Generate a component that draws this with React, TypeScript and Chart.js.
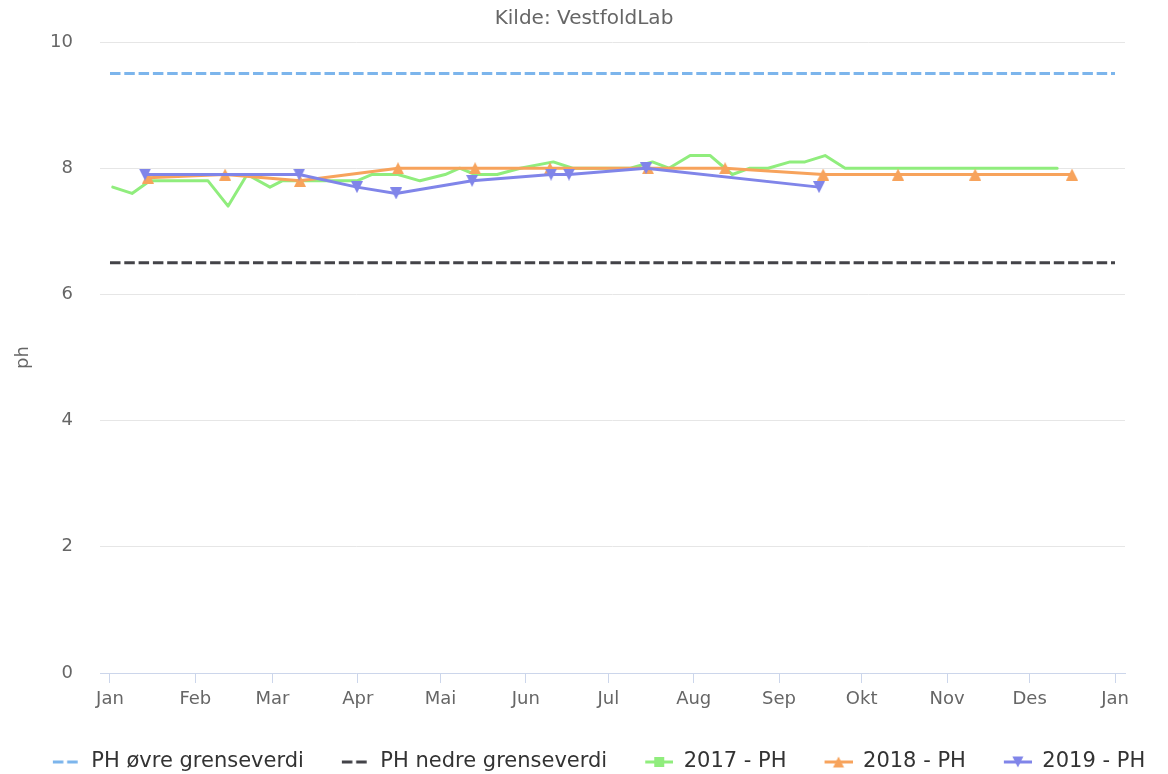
import React, { useEffect, useRef } from "react";
import { Chart, registerables } from "chart.js";

Chart.register(...registerables);

// ---- axis / tick data ----
const monthStarts = [0, 31, 59, 90, 120, 151, 181, 212, 243, 273, 304, 334, 365];
const monthLabels = ["Jan", "Feb", "Mar", "Apr", "Mai", "Jun", "Jul", "Aug", "Sep", "Okt", "Nov", "Des", "Jan"];
const yTicks = [0, 2, 4, 6, 8, 10];

// ---- limit lines ----
const limitDays = [0, 365];
const upperLimit = [9.5, 9.5];
const lowerLimit = [6.5, 6.5];

// ---- 2017 - PH (day of year, value) ----
const days2017 = [1, 8, 14.5, 35.6, 42.9, 49.8, 58.1, 62.5, 69, 80, 89.7, 95, 104.6, 112.6, 121.7, 127, 132.6, 140.6, 149, 161, 168, 178, 189, 197, 203, 210.7, 218, 226, 232.4, 239, 247, 252.4, 259.7, 267, 281, 295, 309, 323, 337, 344];
const ph2017 = [7.7, 7.6, 7.8, 7.8, 7.4, 7.9, 7.7, 7.8, 7.8, 7.8, 7.8, 7.9, 7.9, 7.8, 7.9, 8.0, 7.9, 7.9, 8.0, 8.1, 8.0, 8.0, 8.0, 8.1, 8.0, 8.2, 8.2, 7.9, 8.0, 8.0, 8.1, 8.1, 8.2, 8.0, 8.0, 8.0, 8.0, 8.0, 8.0, 8.0];

// ---- 2018 - PH ----
const days2018 = [13.8, 41.8, 69, 104.6, 132.6, 159.8, 195.4, 223.4, 259, 286.2, 314.2, 349.4];
const ph2018 = [7.85, 7.9, 7.8, 8.0, 8.0, 8.0, 8.0, 8.0, 7.9, 7.9, 7.9, 7.9];

// ---- 2019 - PH ----
const days2019 = [12.7, 68.7, 89.7, 103.9, 131.5, 160.2, 166.7, 194.7, 257.5];
const ph2019 = [7.9, 7.9, 7.7, 7.6, 7.8, 7.9, 7.9, 8.0, 7.7];

const FONT = "'DejaVu Sans', 'Lucida Grande', Verdana, sans-serif";
const C_UPPER = "#7cb5ec";
const C_LOWER = "#434348";
const C_2017 = "#90ed7d";
const C_2018 = "#f7a35c";
const C_2019 = "#8085e9";
const DASH = [10.5, 3.8];

function toPoints(xs: number[], ys: number[]) {
  return xs.map((x, i) => ({ x, y: ys[i] }));
}

function makeTriangle(color: string, down: boolean, size = 12): HTMLCanvasElement {
  const c = document.createElement("canvas");
  c.width = size;
  c.height = size;
  const ctx = c.getContext("2d")!;
  ctx.fillStyle = color;
  ctx.beginPath();
  if (down) {
    ctx.moveTo(0, 0);
    ctx.lineTo(size, 0);
    ctx.lineTo(size / 2, size);
  } else {
    ctx.moveTo(size / 2, 0);
    ctx.lineTo(size, size);
    ctx.lineTo(0, size);
  }
  ctx.closePath();
  ctx.fill();
  return c;
}

// legend symbol: transparent left margin (item spacing) + 28px symbol on the right
const SYM_MARGIN = 30;
const SYM_W = 28;

function makeLegendSymbol(color: string, kind: "dash" | "square" | "up" | "down"): HTMLCanvasElement {
  const w = SYM_MARGIN + SYM_W;
  const h = 14;
  const c = document.createElement("canvas");
  c.width = w;
  c.height = h;
  const ctx = c.getContext("2d")!;
  ctx.translate(SYM_MARGIN, 0);
  ctx.strokeStyle = color;
  ctx.fillStyle = color;
  ctx.lineWidth = 3;
  if (kind === "dash") {
    ctx.setLineDash(DASH);
    ctx.beginPath();
    ctx.moveTo(0, h / 2);
    ctx.lineTo(SYM_W, h / 2);
    ctx.stroke();
    return c;
  }
  ctx.beginPath();
  ctx.moveTo(0, h / 2);
  ctx.lineTo(SYM_W, h / 2);
  ctx.stroke();
  const s = 11;
  const cx = SYM_W / 2;
  const x0 = cx - s / 2;
  const y0 = h / 2 - s / 2;
  ctx.beginPath();
  if (kind === "square") {
    ctx.rect(cx - 5, h / 2 - 5, 10, 10);
  } else if (kind === "up") {
    ctx.moveTo(cx, y0);
    ctx.lineTo(x0 + s, y0 + s);
    ctx.lineTo(x0, y0 + s);
  } else {
    ctx.moveTo(x0, y0);
    ctx.lineTo(x0 + s, y0);
    ctx.lineTo(cx, y0 + s);
  }
  ctx.closePath();
  ctx.fill();
  return c;
}

export default function App() {
  const canvasRef = useRef<HTMLCanvasElement | null>(null);

  useEffect(() => {
    document.body.style.margin = "0";
    const canvas = canvasRef.current;
    if (!canvas) return;

    const legendSymbols = [
      makeLegendSymbol(C_UPPER, "dash"),
      makeLegendSymbol(C_LOWER, "dash"),
      makeLegendSymbol(C_2017, "square"),
      makeLegendSymbol(C_2018, "up"),
      makeLegendSymbol(C_2019, "down"),
    ];

    const chart = new Chart(canvas, {
      type: "line",
      data: {
        datasets: [
          {
            label: "PH øvre grenseverdi",
            data: toPoints(limitDays, upperLimit),
            borderColor: C_UPPER,
            backgroundColor: C_UPPER,
            borderWidth: 3,
            borderDash: DASH,
            pointRadius: 0,
            order: 5,
          },
          {
            label: "PH nedre grenseverdi",
            data: toPoints(limitDays, lowerLimit),
            borderColor: C_LOWER,
            backgroundColor: C_LOWER,
            borderWidth: 3,
            borderDash: DASH,
            pointRadius: 0,
            order: 4,
          },
          {
            label: "2017 - PH",
            data: toPoints(days2017, ph2017),
            borderColor: C_2017,
            backgroundColor: C_2017,
            borderWidth: 3,
            borderJoinStyle: "round",
            borderCapStyle: "round",
            pointRadius: 0,
            order: 3,
          },
          {
            label: "2018 - PH",
            data: toPoints(days2018, ph2018),
            borderColor: C_2018,
            backgroundColor: C_2018,
            borderWidth: 3,
            borderJoinStyle: "round",
            borderCapStyle: "round",
            pointStyle: makeTriangle(C_2018, false),
            pointRadius: 6,
            order: 2,
          },
          {
            label: "2019 - PH",
            data: toPoints(days2019, ph2019),
            borderColor: C_2019,
            backgroundColor: C_2019,
            borderWidth: 3,
            borderJoinStyle: "round",
            borderCapStyle: "round",
            pointStyle: makeTriangle(C_2019, true),
            pointRadius: 6,
            order: 1,
          },
        ] as any,
      },
      options: {
        animation: false,
        responsive: false,
        devicePixelRatio: 1,
        events: [],
        layout: { padding: { left: 0, right: 0, top: 0, bottom: -8.5 } },
        plugins: {
          tooltip: { enabled: false },
          title: {
            display: true,
            text: "Kilde: VestfoldLab",
            color: "#666666",
            font: { family: FONT, size: 20, weight: "normal" },
            padding: { top: 7, bottom: 11 },
          },
          legend: {
            display: true,
            position: "bottom",
            labels: {
              usePointStyle: true,
              pointStyleWidth: SYM_MARGIN + SYM_W,
              padding: 8,
              color: "#333333",
              font: { family: FONT, size: 21, weight: "normal" },
              generateLabels: (ch: any) => {
                const items = Chart.defaults.plugins.legend.labels.generateLabels(ch);
                items.forEach((it: any) => {
                  it.pointStyle = legendSymbols[it.datasetIndex];
                });
                return items.sort((a: any, b: any) => a.datasetIndex - b.datasetIndex);
              },
            },
          },
        },
        scales: {
          x: {
            type: "linear",
            min: -3.63,
            max: 368.63,
            afterBuildTicks: (scale: any) => {
              scale.ticks = monthStarts.map((v) => ({ value: v }));
            },
            afterFit: (scale: any) => {
              scale.height = 70.5;
              scale.paddingRight = 43;
            },
            ticks: {
              autoSkip: false,
              maxRotation: 0,
              padding: 6,
              color: "#666666",
              font: { family: FONT, size: 18 },
              callback: (value: any) => {
                const i = monthStarts.indexOf(Number(value));
                return i >= 0 ? monthLabels[i] : "";
              },
            },
            grid: {
              display: true,
              drawOnChartArea: false,
              drawTicks: true,
              tickLength: 10,
              color: "#ccd6eb",
              lineWidth: 1,
            },
            border: { display: true, color: "#ccd6eb", width: 1 },
          },
          y: {
            min: 0,
            max: 10,
            afterBuildTicks: (scale: any) => {
              scale.ticks = yTicks.map((v) => ({ value: v }));
            },
            afterFit: (scale: any) => {
              scale.width = 100;
            },
            ticks: {
              padding: 27,
              color: "#666666",
              font: { family: FONT, size: 18 },
            },
            grid: {
              color: "#e6e6e6",
              lineWidth: 1,
              drawTicks: false,
            },
            border: { display: false },
            title: {
              display: true,
              text: "ph",
              color: "#666666",
              font: { family: FONT, size: 18, weight: "normal" },
              padding: { top: 13, bottom: 0 },
            },
          },
        },
      } as any,
    });

    return () => {
      chart.destroy();
    };
  }, []);

  return (
    <div style={{ position: "relative", width: 1168, height: 774, overflow: "hidden" }}>
      <canvas ref={canvasRef} width={1168} height={774} style={{ display: "block" }} />
    </div>
  );
}
